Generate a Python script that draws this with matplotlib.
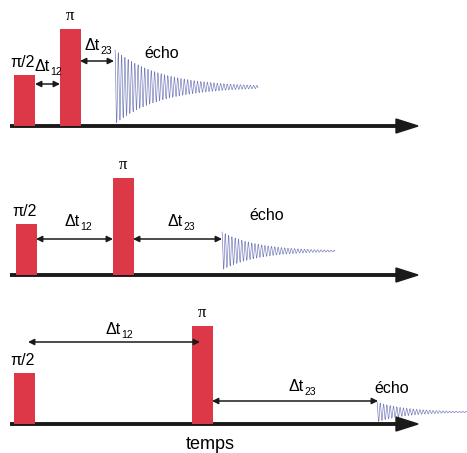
import matplotlib
matplotlib.use("Agg")
import matplotlib.pyplot as plt
import numpy as np

plt.rcParams['font.family'] = ['Liberation Sans', 'DejaVu Sans']

# three panels, coordinates in image pixels (y downwards)
baselines = [126, 275, 424]
pulse1_x = [14, 16, 14]
pulse1_top = [75, 224, 373]
pulse2_x = [60, 113, 192]
pulse2_top = [29, 178, 326]
pulse_w = 21

dt12_y = [84, 239, 342]
dt12_x = [(35, 60), (36, 113), (28, 200)]
dt23_y = [61, 239, 401]
dt23_x = [(80, 114), (133, 222), (212, 378)]
dt12_lbl = [(50, 71), (80, 226), (121, 334)]
dt23_lbl = [(100, 50), (183, 226), (304, 391)]

echo_start = [115, 222, 377]
echo_end = [258, 335, 467]
echo_mid = [87, 251, 412]
echo_amp = [37, 19, 10]
echo_tau = [45, 35, 30]
echo_lbl = [(144, 58), (249, 220), (374, 393)]

red = '#dc3848'
blue = '#7078b8'

fig = plt.figure(figsize=(4.67, 4.53), dpi=100)
ax = fig.add_axes([0, 0, 1, 1])
ax.set_xlim(0, 467)
ax.set_ylim(453, 0)
ax.axis('off')

for i in range(3):
    b = baselines[i]
    # time axis
    ax.plot([10, 400], [b, b], color='#1a1a1a', lw=2.8, solid_capstyle='butt', zorder=1)
    ax.fill([396, 418, 396], [b - 7, b, b + 7], color='#1a1a1a', zorder=1)

    # pulses
    ax.bar(pulse1_x[i], b - pulse1_top[i], width=pulse_w, bottom=pulse1_top[i],
           align='edge', color=red, zorder=2)
    ax.bar(pulse2_x[i], b - pulse2_top[i], width=pulse_w, bottom=pulse2_top[i],
           align='edge', color=red, zorder=2)
    ax.text(pulse1_x[i] + 9, pulse1_top[i] - 5, 'π/2', ha='center', va='bottom', fontsize=11.5)
    ax.text(pulse2_x[i] + 10, pulse2_top[i] - 5, 'π', ha='center', va='bottom', fontsize=12,
            family='Liberation Serif')

    # delays
    for (x0, x1), y in [(dt12_x[i], dt12_y[i]), (dt23_x[i], dt23_y[i])]:
        ax.annotate('', xy=(x1, y), xytext=(x0, y),
                    arrowprops=dict(arrowstyle='<|-|>', color='#1a1a1a', lw=1.1,
                                    mutation_scale=9, shrinkA=0, shrinkB=0), zorder=3)
    for (lx, ly), sub in [(dt12_lbl[i], '12'), (dt23_lbl[i], '23')]:
        ax.text(lx, ly, 'Δt', ha='right', va='baseline', fontsize=11.5)
        ax.text(lx + 0.5, ly + 4, sub, ha='left', va='baseline', fontsize=7.5)

    # echo
    t = np.linspace(0, echo_end[i] - echo_start[i], 1500)
    y = echo_mid[i] - echo_amp[i] * np.exp(-t / echo_tau[i]) * np.cos(2 * np.pi * t / 3.3)
    ax.plot(echo_start[i] + t, y, color=blue, lw=0.45, zorder=2)
    ax.text(echo_lbl[i][0], echo_lbl[i][1], 'écho', ha='left', va='baseline', fontsize=11.5)

ax.text(210, 449, 'temps', ha='center', va='baseline', fontsize=13)

fig.savefig('out.png', dpi=100)
